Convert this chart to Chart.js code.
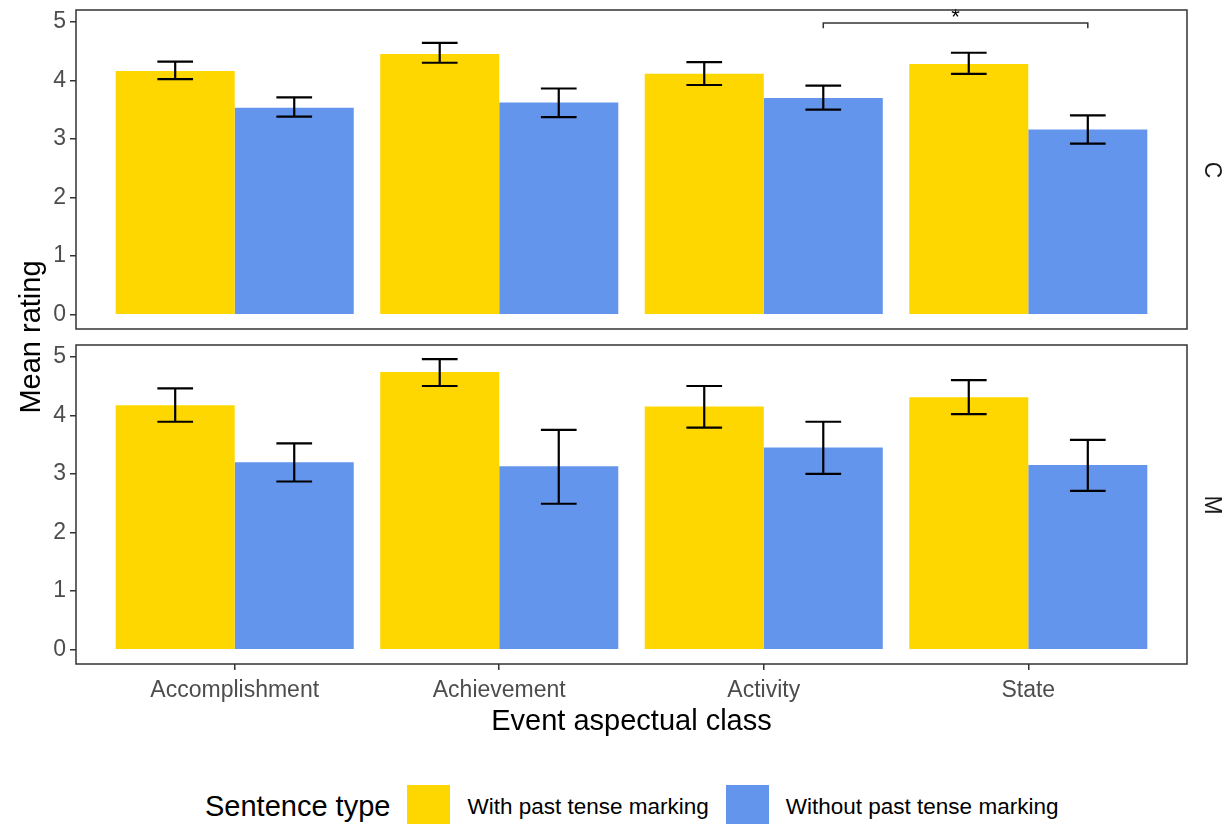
<!DOCTYPE html>
<html lang="en">
<head>
    <meta charset="UTF-8">
    <title>Mean rating by event aspectual class</title>
    <script src="https://cdn.jsdelivr.net/npm/chart.js"></script>
    <style>
        body {
            margin: 0;
            width: 1224px;
            height: 824px;
            background: #fff;
            font-family: "Liberation Sans", Arial, Helvetica, sans-serif;
            position: relative;
            overflow: hidden;
        }
        canvas { position: absolute; left: 0; }
        #panelC { top: 0; }
        #panelM { top: 335px; }
        .ytitle {
            position: absolute;
            left: -170px;
            top: 320px;
            width: 400px;
            line-height: 34px;
            text-align: center;
            font-size: 29px;
            color: #000;
            transform: rotate(-90deg);
        }
        .strip {
            position: absolute;
            left: 1193px;
            width: 40px;
            line-height: 28px;
            text-align: center;
            font-size: 23px;
            color: #1a1a1a;
            transform: rotate(90deg);
        }
        .legend {
            position: absolute;
            top: 785px;
            left: 205px;
            height: 43px;
            display: flex;
            align-items: center;
            white-space: nowrap;
        }
        .legend .title { font-size: 29px; color: #000; margin-right: 17px; }
        .legend .key { width: 43px; height: 43px; margin-right: 17px; flex: none; }
        .legend .label { font-size: 22.5px; color: #000; margin-right: 17px; }
    </style>
</head>
<body>
    <canvas id="panelC" width="1224" height="335"></canvas>
    <canvas id="panelM" width="1224" height="404"></canvas>

    <div class="ytitle">Mean rating</div>
    <div class="strip" style="top:156px">C</div>
    <div class="strip" style="top:491px">M</div>

    <div class="legend" id="legend"></div>

    <script>
        // categories and sentence types
        const aspectClasses = ['Accomplishment', 'Achievement', 'Activity', 'State'];
        const sentenceTypes = ['With past tense marking', 'Without past tense marking'];
        const typeColors = ['#FFD700', '#6495ED'];
        const yTicks = [0, 1, 2, 3, 4, 5];

        // panel C: means and error bar limits
        const cWith = [4.16, 4.45, 4.11, 4.28];
        const cWithLo = [4.02, 4.30, 3.92, 4.11];
        const cWithHi = [4.32, 4.64, 4.31, 4.47];
        const cWithout = [3.53, 3.62, 3.70, 3.16];
        const cWithoutLo = [3.38, 3.37, 3.50, 2.92];
        const cWithoutHi = [3.71, 3.86, 3.91, 3.40];

        // panel M: means and error bar limits
        const mWith = [4.17, 4.74, 4.15, 4.31];
        const mWithLo = [3.89, 4.50, 3.79, 4.02];
        const mWithHi = [4.46, 4.96, 4.50, 4.60];
        const mWithout = [3.20, 3.13, 3.45, 3.15];
        const mWithoutLo = [2.87, 2.49, 3.00, 2.71];
        const mWithoutHi = [3.52, 3.75, 3.89, 3.58];

        // significance bracket in panel C (between the "without" bars)
        const sigFrom = 2;       // Activity
        const sigTo = 3;         // State
        const sigY = 4.98;
        const sigTip = 0.09;
        const sigLabel = '*';

        const FONT = '"Liberation Sans", Arial, Helvetica, sans-serif';
        const M_HEIGHT = 404;    // bottom canvas height
        const AREA_BOTTOM = 329; // plot area bottom inside each canvas

        // whiskers on top of every bar
        const errorBars = {
            id: 'errorBars',
            afterDatasetsDraw(chart, args, opts) {
                const ctx = chart.ctx;
                const y = chart.scales.y;
                ctx.save();
                ctx.strokeStyle = '#000';
                ctx.lineWidth = 2.2;
                chart.data.datasets.forEach((ds, i) => {
                    const meta = chart.getDatasetMeta(i);
                    meta.data.forEach((bar, j) => {
                        const x = bar.x;
                        const half = bar.width * 0.15;
                        const top = y.getPixelForValue(opts.upper[i][j]);
                        const bot = y.getPixelForValue(opts.lower[i][j]);
                        ctx.beginPath();
                        ctx.moveTo(x, top); ctx.lineTo(x, bot);
                        ctx.moveTo(x - half, top); ctx.lineTo(x + half, top);
                        ctx.moveTo(x - half, bot); ctx.lineTo(x + half, bot);
                        ctx.stroke();
                    });
                });
                ctx.restore();
            }
        };

        const sigBracket = {
            id: 'sigBracket',
            afterDatasetsDraw(chart, args, opts) {
                if (!opts || !opts.show) return;
                const ctx = chart.ctx;
                const y = chart.scales.y;
                const meta = chart.getDatasetMeta(opts.dataset);
                const x1 = meta.data[opts.from].x;
                const x2 = meta.data[opts.to].x;
                const yl = y.getPixelForValue(opts.y);
                const yt = y.getPixelForValue(opts.y - opts.tip);
                ctx.save();
                ctx.strokeStyle = '#333';
                ctx.lineWidth = 1.5;
                ctx.beginPath();
                ctx.moveTo(x1, yt); ctx.lineTo(x1, yl); ctx.lineTo(x2, yl); ctx.lineTo(x2, yt);
                ctx.stroke();
                ctx.fillStyle = '#000';
                ctx.font = '22px ' + FONT;
                ctx.textAlign = 'center';
                ctx.textBaseline = 'alphabetic';
                ctx.fillText(opts.label, (x1 + x2) / 2, yl + 1);
                ctx.restore();
            }
        };

        // ggplot-like panel border
        const panelBorder = {
            id: 'panelBorder',
            afterDraw(chart) {
                const a = chart.chartArea;
                const ctx = chart.ctx;
                ctx.save();
                ctx.strokeStyle = '#333';
                ctx.lineWidth = 1.5;
                ctx.strokeRect(a.left, a.top, a.right - a.left, a.bottom - a.top);
                ctx.restore();
            }
        };

        const catTicks = axis => { axis.ticks = aspectClasses.map((c, i) => ({ value: i + 1 })); };

        function makePanel(id, withVals, withoutVals, lower, upper, showX, bracket) {
            const toPoints = vals => vals.map((v, i) => ({ x: i + 1, y: v }));
            return new Chart(document.getElementById(id), {
                type: 'bar',
                data: {
                    datasets: [
                        { label: sentenceTypes[0], data: toPoints(withVals), backgroundColor: typeColors[0] },
                        { label: sentenceTypes[1], data: toPoints(withoutVals), backgroundColor: typeColors[1] }
                    ]
                },
                options: {
                    responsive: false,
                    animation: false,
                    devicePixelRatio: 1,
                    layout: { padding: { top: 10, right: 37, bottom: showX ? 0 : 6, left: 0 } },
                    datasets: { bar: { categoryPercentage: 0.9, barPercentage: 1.0, borderWidth: 0 } },
                    plugins: {
                        legend: { display: false },
                        tooltip: { enabled: false },
                        errorBars: { lower: lower, upper: upper },
                        sigBracket: bracket
                    },
                    scales: {
                        x: {
                            type: 'linear',
                            min: 0.4,
                            max: 4.6,
                            offset: false,
                            display: showX,
                            afterBuildTicks: catTicks,
                            afterFit: s => {
                                s.height = showX ? M_HEIGHT - AREA_BOTTOM : 0;
                                s.paddingLeft = 0;
                                s.paddingRight = 0;
                            },
                            grid: { offset: false, drawOnChartArea: false, drawTicks: true, tickLength: 6, color: '#333', lineWidth: 1.5 },
                            border: { display: false },
                            ticks: {
                                color: '#4d4d4d',
                                font: { family: FONT, size: 23 },
                                padding: 7,
                                maxRotation: 0,
                                autoSkip: false,
                                callback: v => aspectClasses[v - 1]
                            },
                            title: {
                                display: true,
                                text: 'Event aspectual class',
                                color: '#000',
                                font: { family: FONT, size: 29 },
                                padding: 0
                            }
                        },
                        y: {
                            min: -0.245,
                            max: 5.2,
                            afterBuildTicks: axis => { axis.ticks = yTicks.map(v => ({ value: v })); },
                            afterFit: s => {
                                s.width = 76;
                                s.paddingTop = 0;
                                s.paddingBottom = 0;
                            },
                            grid: { drawOnChartArea: false, drawTicks: true, tickLength: 6, color: '#333', lineWidth: 1.5 },
                            border: { display: false },
                            ticks: {
                                color: '#4d4d4d',
                                font: { family: FONT, size: 23 },
                                padding: 4
                            }
                        }
                    }
                },
                plugins: [errorBars, sigBracket, panelBorder]
            });
        }

        makePanel('panelC', cWith, cWithout,
            [cWithLo, cWithoutLo], [cWithHi, cWithoutHi], false,
            { show: true, dataset: 1, from: sigFrom, to: sigTo, y: sigY, tip: sigTip, label: sigLabel });

        makePanel('panelM', mWith, mWithout,
            [mWithLo, mWithoutLo], [mWithHi, mWithoutHi], true,
            { show: false });

        // legend built from the same series names and colours
        const legend = document.getElementById('legend');
        let html = '<span class="title">Sentence type</span>';
        sentenceTypes.forEach((t, i) => {
            html += '<span class="key" style="background:' + typeColors[i] + '"></span><span class="label">' + t + '</span>';
        });
        legend.innerHTML = html;
    </script>
</body>
</html>
